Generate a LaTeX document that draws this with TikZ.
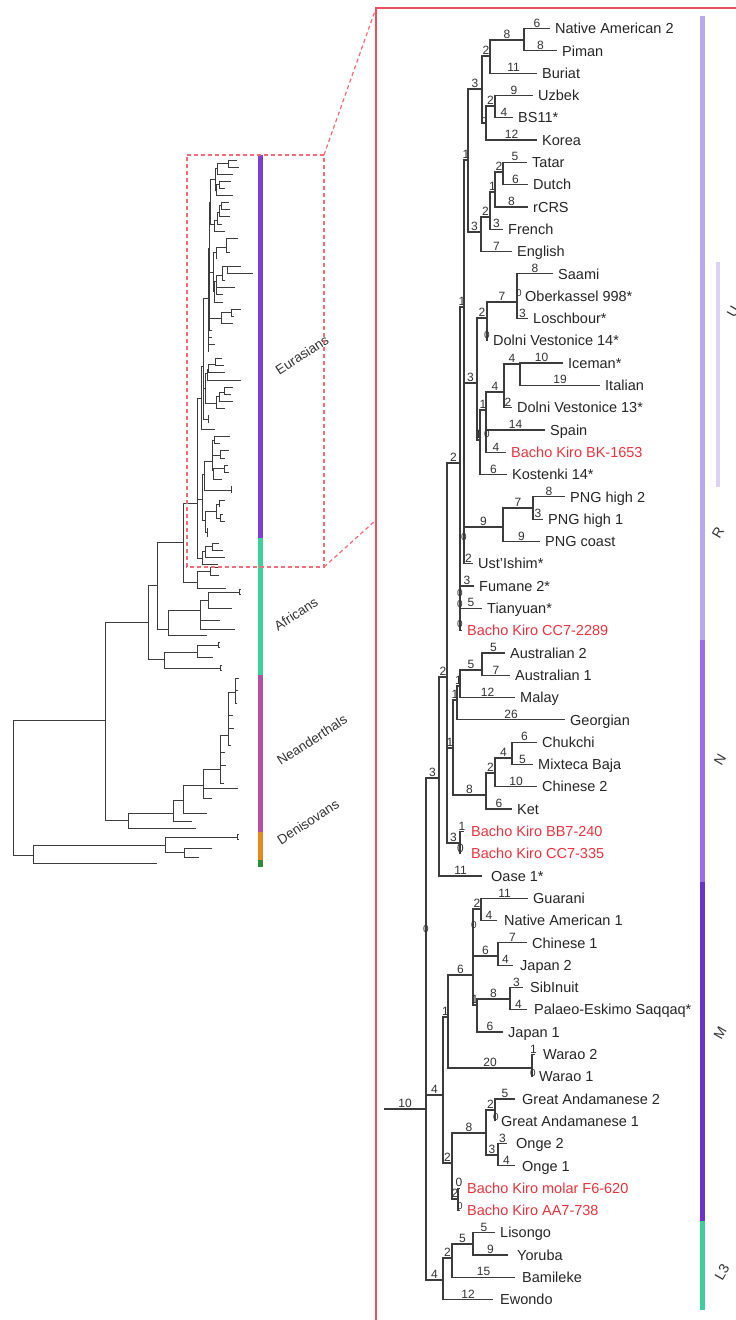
\documentclass[tikz,border=0pt]{standalone}
\usepackage{fontspec}
\setmainfont{Liberation Sans}
\definecolor{brc}{HTML}{3C3C3C}
\definecolor{bkred}{HTML}{E8343E}
\definecolor{panelc}{HTML}{E8505E}
\definecolor{dashc}{HTML}{F26B78}
\definecolor{barR}{HTML}{B9A9EC}
\definecolor{barU}{HTML}{DCD3F4}
\definecolor{barN}{HTML}{9D6BE8}
\definecolor{barM}{HTML}{6A34CB}
\definecolor{barL}{HTML}{3ECF9C}
\definecolor{lpur}{HTML}{7B3FD6}
\definecolor{lgrn}{HTML}{3DD09A}
\definecolor{lmag}{HTML}{B5509F}
\definecolor{lorg}{HTML}{E58A1F}
\definecolor{ldg}{HTML}{2E8B3A}
\tikzset{
 br/.style={draw=brc, line width=1.2pt},
 brL/.style={draw=brc, line width=0.6pt},
 brO/.style={draw=brc, line width=0.8pt},
 blab/.style={pos=0.75, above, inner sep=0.6pt, font=\fontsize{12}{12}\selectfont, text=black!80},
 lf/.style={anchor=base west, inner sep=0pt, xshift=5pt, yshift=-5.2pt, font=\fontsize{14.5}{16}\selectfont, text=black!85},
 bk/.style={text=bkred},
 zero/.style={inner sep=0pt, font=\fontsize{10}{10}\selectfont, text=black!80},
 grp/.style={rotate=60, font=\fontsize{14}{14}\selectfont, text=black!80},
 clade/.style={rotate=33, font=\fontsize{13.5}{14}\selectfont, text=black!80},
 dsh/.style={draw=dashc, line width=1.2pt, dash pattern=on 4pt off 3pt},
 panel/.style={draw=panelc, line width=1.5pt},
}
\newcommand\tpre{R}
\newcommand\TC[3]{\coordinate (\tpre#1) at (#2,#3);}
\newcommand\TElab[3]{\draw[br] (\tpre#1) |- node[blab]{#3} (\tpre#2);}
\newcommand\TEnol[3]{\draw[brL] (\tpre#1) |- (\tpre#2);}
\newcommand\TE{}
\newcommand\treebody{%
\TC{r0}{384}{1109}\TC{root}{426}{1109}\TC{A}{439}{778}\TC{M0}{443}{1095}\TC{L0}{443}{1280}
\TC{X}{447}{677}\TC{R0}{460}{463}\TC{N2}{453}{748}\TC{BB}{460}{843}\TC{S}{464}{307}
\TC{Q}{468}{160}\TC{U}{477}{383}\TC{PNG}{503}{527}\TC{P}{482}{89}\TC{E}{481}{232}
\TC{A1}{490}{56}\TC{B1}{486}{123}\TC{NP}{524}{40}\TC{UB}{495}{106}\TC{E1}{490}{217}
\TC{E2}{495}{192}\TC{E3}{503}{172}\TC{U1}{487}{318}\TC{U2}{480}{440}\TC{U1a}{517}{302}
\TC{U3}{486}{410}\TC{DV}{504}{392}\TC{Ice}{520}{364}\TC{P7}{533}{508}\TC{N3}{457}{700}
\TC{Ch}{486}{795}\TC{N4}{460}{686}\TC{Aus}{482}{670}\TC{C2}{495}{773}\TC{C4}{512}{758}
\TC{M1}{448}{1017}\TC{M2}{452}{1163}\TC{M3}{473}{975}\TC{W}{532}{1068}\TC{G}{481}{909}
\TC{CJ}{498}{956}\TC{M4}{477}{1005}\TC{SP}{510}{999}\TC{An}{486}{1133}\TC{BK}{458}{1199}
\TC{GA}{495}{1110}\TC{On}{498}{1155}\TC{L1}{452}{1258}\TC{L2}{473}{1244}
\TC{l0}{550}{28.5}\TC{l1}{557}{50.8}\TC{l2}{537}{73.1}\TC{l3}{533}{95.4}\TC{l4}{513}{117.7}
\TC{l5}{537}{140.0}\TC{l6}{527}{162.3}\TC{l7}{528}{184.6}\TC{l8}{528}{206.9}\TC{l9}{503}{229.2}
\TC{l10}{512}{251.5}\TC{l11}{553}{273.8}\TC{l12}{517}{296.1}\TC{l13}{528}{318.4}\TC{l14}{487}{340.7}
\TC{l15}{563}{363.0}\TC{l16}{600}{385.3}\TC{l17}{512}{407.6}\TC{l18}{545}{429.9}\TC{l19}{506}{452.2}
\TC{l20}{507}{474.5}\TC{l21}{565}{496.8}\TC{l22}{543}{519.1}\TC{l23}{540}{541.4}\TC{l24}{473}{563.7}
\TC{l25}{474}{586.0}\TC{l26}{482}{608.3}\TC{l27}{462}{630.6}\TC{l28}{505}{652.9}\TC{l29}{510}{675.2}
\TC{l30}{515}{697.5}\TC{l31}{565}{719.8}\TC{l32}{537}{742.1}\TC{l33}{533}{764.4}\TC{l34}{537}{786.7}
\TC{l35}{512}{809.0}\TC{l36}{464}{831.3}\TC{l37}{461}{853.6}\TC{l38}{482}{875.9}\TC{l39}{528}{898.2}
\TC{l40}{497}{920.5}\TC{l41}{527}{942.8}\TC{l42}{513}{965.1}\TC{l43}{523}{987.4}\TC{l44}{527}{1009.7}
\TC{l45}{503}{1032.0}\TC{l46}{535}{1054.3}\TC{l47}{532}{1076.6}\TC{l48}{515}{1098.9}\TC{l49}{495}{1121.2}
\TC{l50}{507}{1143.5}\TC{l51}{515}{1165.8}\TC{l52}{460}{1188.1}\TC{l53}{460}{1210.4}\TC{l54}{495}{1232.7}
\TC{l55}{508}{1255.0}\TC{l56}{515}{1277.3}\TC{l57}{493}{1299.6}
\TE{r0}{root}{10}\TE{root}{A}{3}\TE{root}{M0}{4}\TE{root}{L0}{4}
\TE{A}{X}{2}\TE{A}{l38}{11}
\TE{X}{R0}{2}\TE{X}{N2}{1}\TE{X}{BB}{3}
\TE{R0}{S}{1}\TE{R0}{l25}{3}\TE{R0}{l26}{5}\TE{R0}{l27}{}
\TE{S}{Q}{1}\TE{S}{U}{3}\TE{S}{PNG}{9}\TE{S}{l24}{2}
\TE{Q}{P}{3}\TE{Q}{E}{3}
\TE{P}{A1}{2}\TE{P}{B1}{}
\TE{A1}{NP}{8}\TE{A1}{l2}{11}\TE{NP}{l0}{6}\TE{NP}{l1}{8}
\TE{B1}{UB}{2}\TE{B1}{l5}{12}\TE{UB}{l3}{9}\TE{UB}{l4}{4}
\TE{E}{E1}{2}\TE{E}{l10}{7}\TE{E1}{E2}{1}\TE{E1}{l9}{3}
\TE{E2}{E3}{2}\TE{E2}{l8}{8}\TE{E3}{l6}{5}\TE{E3}{l7}{6}
\TE{U}{U1}{2}\TE{U}{U2}{1}\TE{U1}{U1a}{7}\TE{U1}{l14}{}
\TE{U1a}{l11}{8}\TE{U1a}{l12}{}\TE{U1a}{l13}{3}
\TE{U2}{U3}{1}\TE{U2}{l20}{6}
\TE{U3}{DV}{4}\TE{U3}{l18}{14}\TE{U3}{l19}{4}
\TE{DV}{Ice}{4}\TE{DV}{l17}{2}\TE{Ice}{l15}{10}\TE{Ice}{l16}{19}
\TE{PNG}{P7}{7}\TE{PNG}{l23}{9}\TE{P7}{l21}{8}\TE{P7}{l22}{3}
\TE{N2}{N3}{1}\TE{N2}{Ch}{8}\TE{N3}{N4}{1}\TE{N3}{l31}{26}
\TE{N4}{Aus}{5}\TE{N4}{l30}{12}\TE{Aus}{l28}{5}\TE{Aus}{l29}{7}
\TE{Ch}{C2}{2}\TE{Ch}{l35}{6}\TE{C2}{C4}{4}\TE{C2}{l34}{10}
\TE{C4}{l32}{6}\TE{C4}{l33}{5}
\TE{BB}{l36}{1}\TE{BB}{l37}{0}
\TE{M0}{M1}{1}\TE{M0}{M2}{2}
\TE{M1}{M3}{6}\TE{M1}{W}{20}
\TE{M3}{G}{2}\TE{M3}{CJ}{6}\TE{M3}{M4}{1}
\TE{G}{l39}{11}\TE{G}{l40}{4}\TE{CJ}{l41}{7}\TE{CJ}{l42}{4}
\TE{M4}{SP}{8}\TE{M4}{l45}{6}\TE{SP}{l43}{3}\TE{SP}{l44}{4}
\TE{W}{l46}{1}\TE{W}{l47}{}
\TE{M2}{An}{8}\TE{M2}{BK}{2}
\TE{An}{GA}{2}\TE{An}{On}{3}\TE{GA}{l48}{5}\TE{GA}{l49}{}
\TE{On}{l50}{3}\TE{On}{l51}{4}
\TE{BK}{l52}{0}\TE{BK}{l53}{}
\TE{L0}{L1}{2}\TE{L0}{l57}{12}\TE{L1}{L2}{5}\TE{L1}{l56}{15}
\TE{L2}{l54}{5}\TE{L2}{l55}{9}
}
\newcommand\forkat[1]{\draw[brO] ([yshift=2.5pt]#1) -- ([yshift=-2.5pt]#1) ([yshift=2.5pt]#1) -- ++(2,0) ([yshift=-2.5pt]#1) -- ++(2,0);}
\begin{document}
\begin{tikzpicture}[x=1pt,y=-1pt]
\useasboundingbox (0,0) rectangle (736,1320);
\fill[white] (0,0) rectangle (736,1320);

% ---------- right panel tree ----------
\renewcommand\tpre{R}\let\TE\TElab
\treebody
% zero-length markers
\foreach \zx/\zy [count=\k] in {484/121,460/593,460/604,460/624,464/537,487/335,519/293,487/434,474/925,533/1073,496/1117,460/1206,426/929}
  \node[zero] (z\k) at (\zx,\zy) {0};
\node[blab, pos=0] (x1) at (514,283) {1};

% leaf labels
\node[lf] (t0) at (Rl0) {Native American 2};
\node[lf] (t1) at (Rl1) {Piman};
\node[lf] (t2) at (Rl2) {Buriat};
\node[lf] (t3) at (Rl3) {Uzbek};
\node[lf] (t4) at (Rl4) {BS11*};
\node[lf] (t5) at (Rl5) {Korea};
\node[lf] (t6) at (Rl6) {Tatar};
\node[lf] (t7) at (Rl7) {Dutch};
\node[lf] (t8) at (Rl8) {rCRS};
\node[lf] (t9) at (Rl9) {French};
\node[lf] (t10) at (Rl10) {English};
\node[lf] (t11) at (Rl11) {Saami};
\node[lf,xshift=3pt] (t12) at (Rl12) {Oberkassel 998*};
\node[lf] (t13) at (Rl13) {Loschbour*};
\node[lf,xshift=1pt] (t14) at (Rl14) {Dolni Vestonice 14*};
\node[lf] (t15) at (Rl15) {Iceman*};
\node[lf] (t16) at (Rl16) {Italian};
\node[lf] (t17) at (Rl17) {Dolni Vestonice 13*};
\node[lf] (t18) at (Rl18) {Spain};
\node[lf,bk] (t19) at (Rl19) {Bacho Kiro BK-1653};
\node[lf] (t20) at (Rl20) {Kostenki 14*};
\node[lf] (t21) at (Rl21) {PNG high 2};
\node[lf] (t22) at (Rl22) {PNG high 1};
\node[lf] (t23) at (Rl23) {PNG coast};
\node[lf] (t24) at (Rl24) {Ust'Ishim*};
\node[lf] (t25) at (Rl25) {Fumane 2*};
\node[lf] (t26) at (Rl26) {Tianyuan*};
\node[lf,bk] (t27) at (Rl27) {Bacho Kiro CC7-2289};
\node[lf] (t28) at (Rl28) {Australian 2};
\node[lf] (t29) at (Rl29) {Australian 1};
\node[lf] (t30) at (Rl30) {Malay};
\node[lf] (t31) at (Rl31) {Georgian};
\node[lf] (t32) at (Rl32) {Chukchi};
\node[lf] (t33) at (Rl33) {Mixteca Baja};
\node[lf] (t34) at (Rl34) {Chinese 2};
\node[lf] (t35) at (Rl35) {Ket};
\node[lf,bk,xshift=2pt] (t36) at (Rl36) {Bacho Kiro BB7-240};
\node[lf,bk,xshift=5pt] (t37) at (Rl37) {Bacho Kiro CC7-335};
\node[lf,xshift=4pt] (t38) at (Rl38) {Oase 1*};
\node[lf] (t39) at (Rl39) {Guarani};
\node[lf,xshift=2pt] (t40) at (Rl40) {Native American 1};
\node[lf] (t41) at (Rl41) {Chinese 1};
\node[lf,xshift=2pt] (t42) at (Rl42) {Japan 2};
\node[lf,xshift=2pt] (t43) at (Rl43) {SibInuit};
\node[lf,xshift=2pt] (t44) at (Rl44) {Palaeo-Eskimo Saqqaq*};
\node[lf] (t45) at (Rl45) {Japan 1};
\node[lf,xshift=3pt] (t46) at (Rl46) {Warao 2};
\node[lf,xshift=2pt] (t47) at (Rl47) {Warao 1};
\node[lf,xshift=2pt] (t48) at (Rl48) {Great Andamanese 2};
\node[lf,xshift=1pt] (t49) at (Rl49) {Great Andamanese 1};
\node[lf,xshift=4pt] (t50) at (Rl50) {Onge 2};
\node[lf,xshift=2pt] (t51) at (Rl51) {Onge 1};
\node[lf,bk,xshift=2pt] (t52) at (Rl52) {Bacho Kiro molar F6-620};
\node[lf,bk,xshift=2pt] (t53) at (Rl53) {Bacho Kiro AA7-738};
\node[lf] (t54) at (Rl54) {Lisongo};
\node[lf,xshift=4pt] (t55) at (Rl55) {Yoruba};
\node[lf,xshift=2pt] (t56) at (Rl56) {Bamileke};
\node[lf,xshift=2pt] (t57) at (Rl57) {Ewondo};

% right colour bars and group labels
\fill[barR] (699.5,16) rectangle (704.5,640);
\fill[barN] (699.5,640) rectangle (704.5,882);
\fill[barM] (699.5,882) rectangle (704.5,1221);
\fill[barL] (699.5,1221) rectangle (704.5,1310);
\fill[barU] (715.5,262) rectangle (719.5,487);
\node[grp] (gU) at (733,312) {U};
\node[grp] (gR) at (718,533) {R};
\node[grp] (gN) at (720,760) {N};
\node[grp] (gM) at (720,1033) {M};
\node[grp] (gL) at (722,1272) {L3};

% ---------- left overview: scaled copy of the right tree ----------
\begin{scope}[shift={(60.68,150.94)}, xscale=0.32, yscale=0.318]
\renewcommand\tpre{L}\let\TE\TEnol
\treebody
\end{scope}

% ---------- left overview: outer tree ----------
\coordinate (oroot) at (13,787);
\coordinate (oH) at (105,720);
\coordinate (oD0) at (33,855);
\coordinate (oDen) at (165,845);
\coordinate (oSH) at (157,863);
\coordinate (oDa) at (237,837);
\coordinate (oDen2) at (184,852);
\coordinate (oDb) at (212,848);
\coordinate (oDc) at (199,857);
\coordinate (oMH) at (148,622);
\coordinate (oNea) at (128,820);
\coordinate (oNeaA) at (173,813);
\coordinate (oNl1) at (196,828);
\coordinate (oNeaB) at (183,800);
\coordinate (oNl2) at (192,821);
\coordinate (oNeaC) at (203,785);
\coordinate (oNl3) at (207,813);
\coordinate (oNeaD) at (220,769);
\coordinate (oNl4) at (238,788);
\coordinate (oNl5) at (212,798);
\coordinate (oNeaE) at (228,735);
\coordinate (oNl6) at (225,752);
\coordinate (oNl7) at (226,765);
\coordinate (oNl8) at (224,783);
\coordinate (oNeaF) at (235,692);
\coordinate (oNl9) at (233,715);
\coordinate (oNl10) at (234,728);
\coordinate (oNl11) at (231,745);
\coordinate (oNl12) at (239,678);
\coordinate (oNl13) at (238,690);
\coordinate (oNl14) at (237,703);
\coordinate (oM1) at (157,585);
\coordinate (oM2) at (164,659);
\coordinate (oOOA) at (183.6,542);
\coordinate (oAfB) at (168,629);
\coordinate (oAfA) at (197,582);
\coordinate (oAfA1) at (210,571);
\coordinate (oAl1) at (218,567);
\coordinate (oAl2) at (219,575);
\coordinate (oAl3) at (226,588);
\coordinate (oAfB1) at (200,610);
\coordinate (oAl4) at (207,635);
\coordinate (oAfB2) at (208,600);
\coordinate (oAl5) at (220,620);
\coordinate (oAl6) at (235,629);
\coordinate (oAl7) at (239,592);
\coordinate (oAl8) at (232,608);
\coordinate (oM2a) at (197,652);
\coordinate (oAl9) at (220,668);
\coordinate (oAl10) at (218,645);
\coordinate (oAl11) at (213,657);
\foreach \a/\b in {oroot/oH,oroot/oD0,oD0/oDen,oD0/oSH,oDen/oDa,oDen/oDen2,oDen2/oDb,oDen2/oDc,
  oH/oMH,oH/oNea,oNea/oNeaA,oNea/oNl1,oNeaA/oNeaB,oNeaA/oNl2,oNeaB/oNeaC,oNeaB/oNl3,
  oNeaC/oNeaD,oNeaC/oNl4,oNeaC/oNl5,oNeaD/oNeaE,oNeaD/oNl6,oNeaD/oNl7,oNeaD/oNl8,
  oNeaE/oNeaF,oNeaE/oNl9,oNeaE/oNl10,oNeaE/oNl11,oNeaF/oNl12,oNeaF/oNl13,oNeaF/oNl14,
  oMH/oM1,oMH/oM2,oM1/oOOA,oM1/oAfB,oOOA/Lr0,oOOA/oAfA,oAfA/oAfA1,oAfA/oAl3,oAfA1/oAl1,oAfA1/oAl2,
  oAfB/oAfB1,oAfB/oAl4,oAfB1/oAfB2,oAfB1/oAl5,oAfB1/oAl6,oAfB2/oAl7,oAfB2/oAl8,
  oM2/oM2a,oM2/oAl9,oM2a/oAl10,oM2a/oAl11}
  \draw[brO] (\a) |- (\b);
\forkat{oDa}\forkat{oAl7}\forkat{oAl9}\forkat{oAl10}

% left colour bar and labels
\fill[lpur] (257.5,155) rectangle (262.5,538);
\fill[lgrn] (257.5,538) rectangle (262.5,675);
\fill[lmag] (257.5,675) rectangle (262.5,832);
\fill[lorg] (257.5,832) rectangle (262.5,860);
\fill[ldg] (257.5,860) rectangle (262.5,867);
\node[clade] (cE) at (302,355) {Eurasians};
\node[clade] (cA) at (296,614) {Africans};
\node[clade] (cN) at (312,740) {Neanderthals};
\node[clade] (cD) at (308,822) {Denisovans};

% ---------- zoom box and panel ----------
\coordinate (bNW) at (187,155);
\coordinate (bNE) at (324,155);
\coordinate (bSE) at (324,567);
\coordinate (bSW) at (187,567);
\coordinate (pTL) at (376,8);
\coordinate (pTR) at (740,8);
\coordinate (pBL) at (376,1325);
\coordinate (pMid) at (376,520);
\draw[dsh] (bNW) -- (bNE) -- (bSE) -- (bSW) -- cycle;
\draw[dsh] (bNE) -- (pTL);
\draw[dsh] (bSE) -- (pMid);
\draw[panel] (pBL) -- (pTL) -- (pTR);
\end{tikzpicture}
\end{document}
